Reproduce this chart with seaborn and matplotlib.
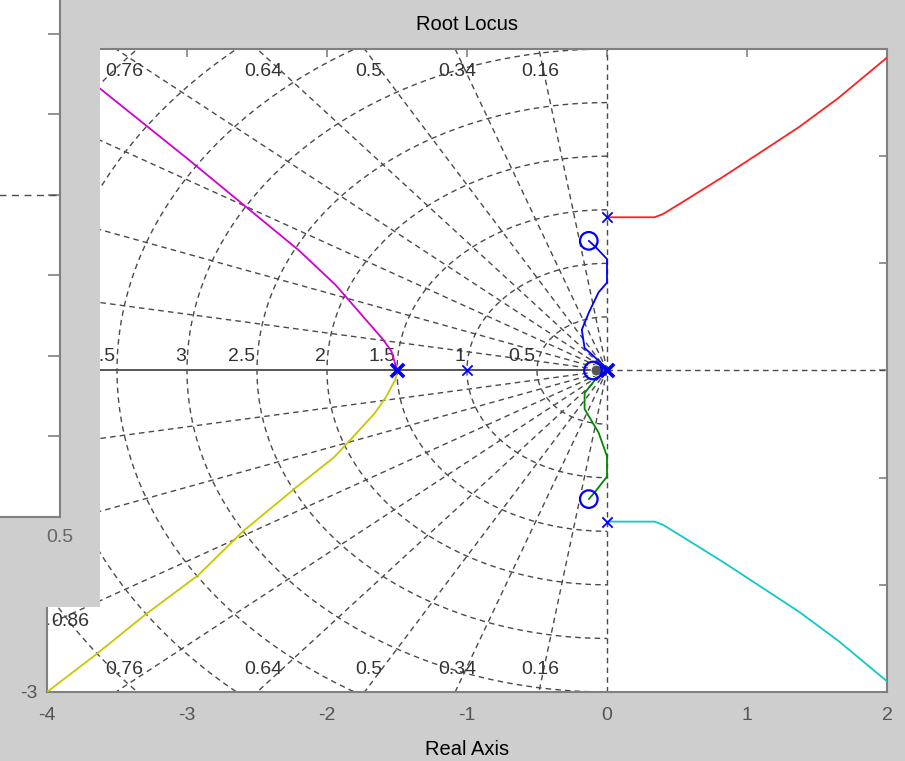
import numpy as np
import matplotlib
matplotlib.use("Agg")
import matplotlib.pyplot as plt
from matplotlib.patches import Rectangle
import seaborn as sns

# damping ratios and natural frequencies of the s-plane grid
zeta_vals = [0.16, 0.34, 0.5, 0.64, 0.76, 0.86, 0.94, 0.985]
zeta_top = [0.16, 0.34, 0.5, 0.64, 0.76]
zeta_side = [0.86, 0.94, 0.985]
wn_vals = [0.5, 1, 1.5, 2, 2.5, 3, 3.5, 4, 4.5, 5]
wn_labels = [0.5, 1, 1.5, 2, 2.5, 3, 3.5]

# open loop poles / zeros
pole_re = [0.0, 0.0, -1.0]
pole_im = [1.43, -1.41, 0.0]
pole2_re = [-1.5, 0.0]          # double poles
pole2_im = [0.0, 0.0]
zero_re = [-0.13, -0.13, -0.10]
zero_im = [1.21, -1.20, 0.0]

# locus branches
red_x = [0.0, 0.34, 0.40, 0.55, 0.82, 1.09, 1.37, 1.65, 2.0]
red_y = [1.43, 1.43, 1.46, 1.58, 1.80, 2.03, 2.27, 2.54, 2.92]
cyan_x = [0.0, 0.34, 0.40, 0.55, 0.82, 1.09, 1.37, 1.65, 2.0]
cyan_y = [-1.41, -1.41, -1.44, -1.56, -1.78, -2.01, -2.25, -2.52, -2.90]
blue_x = [0.0, -0.05, -0.16, -0.18, -0.13, -0.06, 0.0, 0.0, -0.08, -0.13]
blue_y = [0.0, 0.08, 0.21, 0.38, 0.54, 0.73, 0.82, 1.04, 1.15, 1.21]
green_x = [0.0, -0.08, -0.16, -0.16, -0.06, 0.0, 0.0, -0.09, -0.13]
green_y = [0.0, -0.08, -0.21, -0.36, -0.58, -0.80, -0.99, -1.14, -1.20]
mag_x = [-1.50, -1.51, -1.54, -1.60, -1.68, -1.80, -1.94, -2.20, -2.60, -3.00, -3.63, -3.98]
mag_y = [0.00, 0.05, 0.18, 0.29, 0.41, 0.59, 0.80, 1.12, 1.55, 1.98, 2.64, 3.00]
yel_x = [-1.50, -1.51, -1.58, -1.66, -1.80, -1.95, -2.22, -2.60, -2.92, -3.30, -3.65, -4.00]
yel_y = [0.00, -0.08, -0.25, -0.40, -0.60, -0.81, -1.09, -1.50, -1.91, -2.28, -2.65, -3.00]

# left panel (window behind)
side_ticks = [-3, -2, -1, 0, 1, 2]

sns.set_style("white")
plt.rcParams['font.family'] = ['Liberation Sans', 'DejaVu Sans']
plt.rcParams['axes.unicode_minus'] = False

W, H = 905, 761
BG = '#cecece'
GRID = '#4a4a4a'


def px_box(x0, y0, x1, y1):
    return [x0 / W, 1 - y1 / H, (x1 - x0) / W, (y1 - y0) / H]


fig = plt.figure(figsize=(W / 100, H / 100), dpi=100, facecolor=BG)
ax = fig.add_axes(px_box(47, 49, 887, 692))
ax.set_facecolor('white')
ax.set_xlim(-4, 2)
ax.set_ylim(-3, 3)

dash = (0, (4, 3))
# zeta lines
for z in zeta_vals:
    th = np.arccos(z)
    r = np.array([0, 10])
    ax.plot(-r * np.cos(th), r * np.sin(th), color=GRID, lw=1, ls=dash, zorder=1)
    ax.plot(-r * np.cos(th), -r * np.sin(th), color=GRID, lw=1, ls=dash, zorder=1)
# wn circles
t = np.linspace(np.pi / 2, 3 * np.pi / 2, 200)
for w in wn_vals:
    ax.plot(w * np.cos(t), w * np.sin(t), color=GRID, lw=1, ls=dash, zorder=1)
ax.plot([-4, 0], [0, 0], color='#555555', lw=1.4, zorder=1)
ax.plot([0, 2], [0, 0], color=GRID, lw=1, ls=dash, zorder=1)
ax.plot([0, 0], [-3, 3], color=GRID, lw=1, ls=dash, zorder=1)

# grid labels
lab_kw = dict(fontsize=14, color='#333333', zorder=2)
for z in zeta_top:
    xc = -2.95 / np.tan(np.arccos(z))
    ax.text(xc, 2.79, str(z), ha='center', va='center', **lab_kw)
    ax.text(xc, -2.79, str(z), ha='center', va='center', **lab_kw)
for z in zeta_side:
    yc = 3.95 * np.tan(np.arccos(z))
    ax.text(-3.97, yc, str(z), ha='left', va='center', **lab_kw)
    ax.text(-3.97, -yc, str(z), ha='left', va='center', **lab_kw)
for w in wn_labels:
    ax.text(-w - 0.01, 0.13, f'{w:g}', ha='right', va='center', **lab_kw)

# branches
branches = [(red_x, red_y, '#ff2020'), (cyan_x, cyan_y, '#10c8c8'),
            (blue_x, blue_y, '#0000ff'), (green_x, green_y, '#008800'),
            (mag_x, mag_y, '#d000d0'), (yel_x, yel_y, '#c8c800')]
for bx, by, c in branches:
    sns.lineplot(x=bx, y=by, sort=False, estimator=None, color=c, lw=1.3, ax=ax, zorder=3)

sns.scatterplot(x=[-0.08], y=[0.0], color='#555555', s=60, marker='o', ax=ax, zorder=4)
sns.scatterplot(x=zero_re, y=zero_im, marker='o', s=160, facecolor='none',
                edgecolor='#0000ff', linewidth=1.6, ax=ax, zorder=5)
sns.scatterplot(x=pole_re, y=pole_im, marker='x', s=55, color='#0000ff',
                linewidth=1.3, ax=ax, zorder=5)
sns.scatterplot(x=pole2_re, y=pole2_im, marker='x', s=90, color='#0000ff',
                linewidth=2.6, ax=ax, zorder=5)

for sp in ax.spines.values():
    sp.set_color('#808080')
    sp.set_linewidth(1.5)
ax.set_xticks([-4, -3, -2, -1, 0, 1, 2])
ax.set_yticks([-3, -2, -1, 0, 1, 2, 3])
# only the lowest y label is left uncovered by the window in front
ax.set_yticklabels(['-3', '', '', '', '', '', ''])
ax.tick_params(direction='in', length=6, width=1.2, color='#808080', top=True, right=True,
               labelsize=14, labelcolor='#555555', pad=11)
ax.tick_params(axis='y', pad=7)
ax.set_title('Root Locus', fontsize=14.5, pad=14, color='black')
ax.set_xlabel('Real Axis', fontsize=14.5, labelpad=11, color='black')

# overlapping window area
fig.add_artist(Rectangle((0, 1 - 607 / H), 100 / W, 607 / H, transform=fig.transFigure,
                         facecolor=BG, edgecolor='none', zorder=5))

ax2 = fig.add_axes(px_box(-20, 0, 60, 517))
ax2.set_zorder(10)
ax2.set_facecolor('white')
ax2.set_xlim(-0.2, 0.5)
ax2.set_ylim(-4, 2.42)
ax2.axhline(0, color=GRID, lw=1, ls=(0, (5, 4)))
ax2.spines['top'].set_visible(False)
ax2.spines['left'].set_visible(False)
for s in ['right', 'bottom']:
    ax2.spines[s].set_color('#808080')
    ax2.spines[s].set_linewidth(1.5)
ax2.yaxis.tick_right()
ax2.set_yticks(side_ticks)
ax2.set_yticklabels([])
ax2.tick_params(axis='y', direction='in', length=9, width=1.2, color='#808080')
ax2.set_xticks([0.5])
ax2.set_xticklabels(['0.5'])
ax2.tick_params(axis='x', length=0, labelsize=14, labelcolor='#666666', pad=9)

fig.savefig('out.png', dpi=100, facecolor=BG)
